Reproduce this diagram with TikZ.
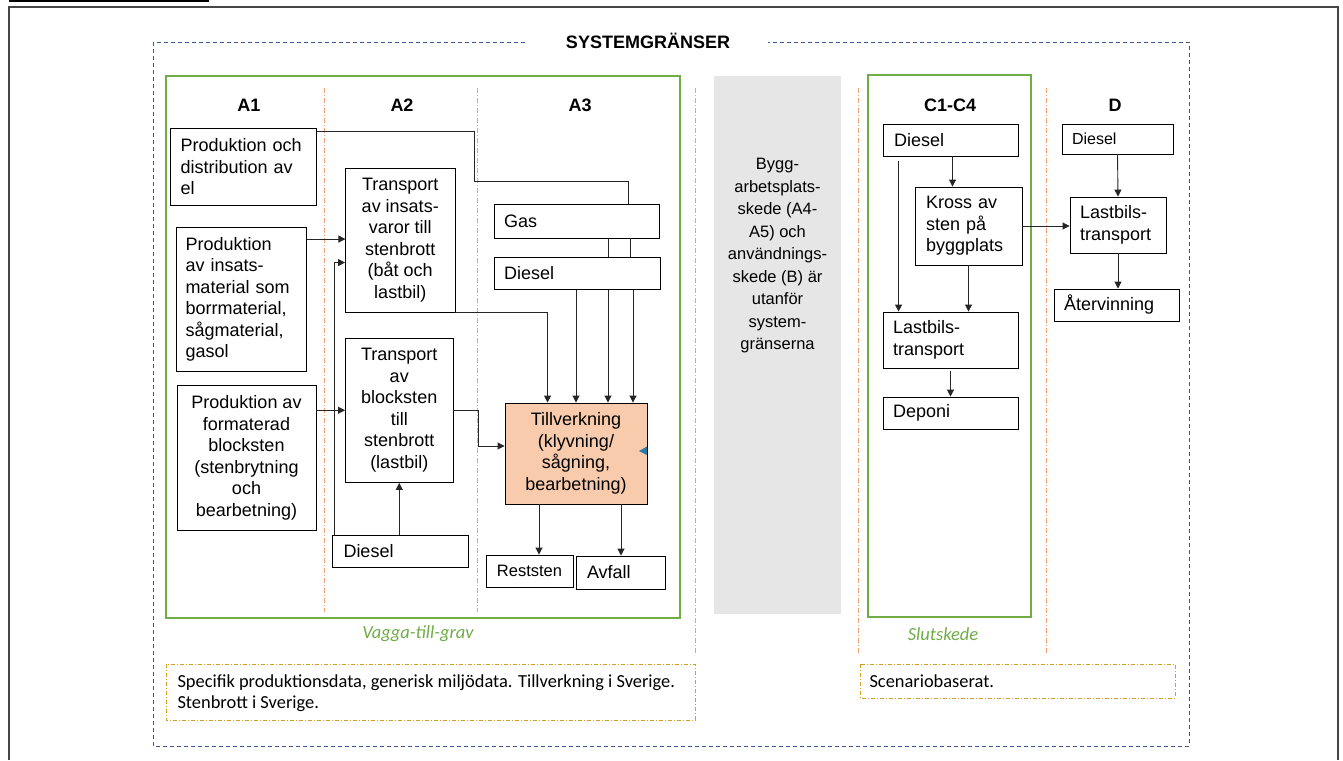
\documentclass[tikz,border=0pt]{standalone}
\usepackage{fontspec}
\setmainfont{Liberation Sans}
\newfontfamily\notefont{Carlito}
\usetikzlibrary{arrows.meta}

\definecolor{lcagreen}{RGB}{112,173,71}
\definecolor{stageorange}{RGB}{244,160,110}
\definecolor{boundblue}{RGB}{58,88,150}
\definecolor{notegold}{RGB}{210,160,30}
\definecolor{outgrey}{RGB}{230,230,230}
\definecolor{fillpeach}{RGB}{248,203,173}
\definecolor{framegrey}{RGB}{70,70,70}

\begin{document}
\begin{tikzpicture}[x=1pt,y=-1pt]
% Define styles
\tikzset{
    box/.style={draw=black, line width=0.9pt, inner sep=0pt, align=center, font=\fontsize{18}{21.5}\selectfont},
    lbox/.style={box, align=left},
    phase/.style={font=\fontsize{18}{22}\selectfont\bfseries},
    divider/.style={stageorange, line width=1pt, dash pattern=on 5pt off 2pt on 1pt off 2pt},
    flow/.style={draw=black!85, line width=0.9pt, -{Triangle[length=7pt,width=7pt]}},
    link/.style={draw=black!85, line width=0.9pt},
    caption/.style={text=lcagreen, font=\notefont\itshape\fontsize{18.5}{20}\selectfont},
    note/.style={draw=notegold, line width=0.9pt, dash pattern=on 4pt off 2pt on 1pt off 2pt},
    notetext/.style={font=\notefont\fontsize{18.4}{21}\selectfont, align=left, anchor=west}
}

% Page and frame
\useasboundingbox (0,0) rectangle (1343,760);
\fill[white] (0,0) rectangle (1343,760);
\draw[framegrey, line width=2pt] (9,760) -- (9,7) -- (1338,7) -- (1338,760);
\draw[black, line width=2.5pt] (9,1) -- (209,1);

% System boundary
\draw[boundblue, line width=0.9pt, dash pattern=on 4pt off 3pt] (153,42) rectangle (1189,746);
\node[phase, fill=white, minimum width=240pt, minimum height=12pt] (title) at (648,41) {SYSTEMGRÄNSER};

% Stage frames
\draw[lcagreen, line width=2.2pt] (166,76) rectangle (680,618);
\draw[lcagreen, line width=2.2pt] (868,75) rectangle (1031,617);
\fill[outgrey] (714,76) rectangle (841,614);

% Stage dividers
\foreach \x in {324,477} {
    \draw[divider] (\x,88) -- (\x,612);
}
\foreach \x in {695,858,1046} {
    \draw[divider] (\x,88) -- (\x,655);
}

% Stage labels
\foreach \x/\name in {249/A1, 402/A2, 580/A3, 950/C1-C4, 1115/D} {
    \node[phase] (lbl\name) at (\x,105) {\name};
}

% A1
\node[lbox, minimum width=146pt, minimum height=77pt, text width=126pt] (el) at (243.5,167) {Produktion och\\distribution av\\el};
\node[lbox, minimum width=130pt, minimum height=144pt, text width=112pt] (insats) at (241.5,299.5) {Produktion\\av insats-\\material som\\borrmaterial,\\sågmaterial,\\gasol};
\node[box, minimum width=139pt, minimum height=144.5pt] (format) at (246.5,457.75) {Produktion av\\formaterad\\blocksten\\(stenbrytning\\och\\bearbetning)};

% A2
\node[box, minimum width=109.5pt, minimum height=144pt] (tinsats) at (400.25,240) {Transport\\av insats-\\varor till\\stenbrott\\(båt och\\lastbil)};
\node[box, minimum width=107.5pt, minimum height=144.5pt] (tblock) at (399.25,410.25) {Transport\\av\\blocksten\\till\\stenbrott\\(lastbil)};
\node[lbox, minimum width=135.5pt, minimum height=32pt, text width=113.5pt] (dieselA) at (400.25,551) {Diesel};

% A3
\node[lbox, minimum width=165pt, minimum height=33.5pt, text width=145pt] (gas) at (576.5,221.25) {Gas};
\node[lbox, minimum width=166pt, minimum height=32.5pt, text width=146pt] (dieselB) at (577,273.25) {Diesel};
\node[box, fill=fillpeach, minimum width=142pt, minimum height=101pt] (till) at (576,453.5) {Tillverkning\\(klyvning/\\sågning,\\bearbetning)};
\fill[boundblue!80!cyan] (639,451) -- (647,446.5) -- (647,455) -- cycle;
\node[box, minimum width=87pt, minimum height=32pt, font=\fontsize{16.5}{20}\selectfont] (rest) at (529.5,571) {Reststen};
\node[lbox, minimum width=89pt, minimum height=33pt, text width=67pt] (avfall) at (620.5,572.5) {Avfall};

% Outside the boundary
\node[font=\fontsize{16.5}{22.5}\selectfont, align=center] (outside) at (777.5,256) {Bygg-\\arbetsplats-\\skede (A4-\\A5) och\\användnings-\\skede (B) är\\utanför\\system-\\gränserna};

% C1-C4
\node[lbox, minimum width=135pt, minimum height=32pt, text width=113pt] (dieselC) at (950.5,140) {Diesel};
\node[lbox, minimum width=107pt, minimum height=78pt, text width=85pt] (kross) at (968.5,226) {Kross av\\sten på\\byggplats};
\node[lbox, minimum width=135pt, minimum height=56pt, text width=115pt] (lastC) at (950.5,340) {Lastbils-\\transport};
\node[lbox, minimum width=135pt, minimum height=32pt, text width=115pt] (deponi) at (950.5,413) {Deponi};

% D
\node[lbox, minimum width=111pt, minimum height=30pt, text width=91pt, font=\fontsize{16}{20}\selectfont] (dieselD) at (1117.5,139) {Diesel};
\node[lbox, minimum width=96pt, minimum height=56pt, text width=76pt] (lastD) at (1118,225) {Lastbils-\\transport};
\node[lbox, minimum width=125pt, minimum height=32pt, text width=105pt] (atervin) at (1116.5,305) {Återvinning};

% Connectors A
\draw[link] ([yshift=-3pt]el.north east) -| (474,181) -| ([xshift=51.5pt]gas.north);
\foreach \dx in {31.5,53.5} {
    \draw[link] ([xshift=\dx pt]gas.south) -- ([xshift=\dx pt]gas.south |- dieselB.north);
}
\foreach \dx in {-1,31,56} {
    \draw[flow] ([xshift=\dx pt]dieselB.south) -- ([xshift=\dx pt]dieselB.south |- till.north);
}
\draw[flow] (tinsats.south east) -| ([xshift=43pt]till.north west);
\draw[flow] ([yshift=-12pt]insats.north east) -- ++(38.5,0);
\draw[flow] ([xshift=2pt]dieselA.north west) |- ([yshift=-95pt]tinsats.north west);
\draw[flow] (dieselA.north -| tblock.south) -- (tblock.south);
\draw[flow] (format.east |- tblock.west) -- (tblock.west);
\draw[flow] (tblock.east) -- ++(25,0) |- ([yshift=7.5pt]till.west);
\draw[flow] ([xshift=-37pt]till.south) -- ([xshift=-37pt]till.south |- rest.north);
\draw[flow] ([xshift=45pt]till.south) -- ([xshift=45pt]till.south |- avfall.north);

% Connectors C and D
\draw[flow] ([xshift=2pt]dieselC.south) -- ([xshift=2pt]dieselC.south |- kross.north);
\draw[flow] ([xshift=16pt,yshift=-5pt]dieselC.south west) -- ([xshift=16pt]lastC.north west);
\draw[flow] (kross.south) -- (kross.south |- lastC.north);
\draw[flow] ([yshift=-3pt]lastC.south) -- (deponi.north);
\draw[flow] (kross.east) -- (kross.east -| lastD.west);
\draw[flow] (dieselD.south) -- (lastD.north);
\draw[flow] (lastD.south) -- (lastD.south |- atervin.north);

% Captions and notes
\node[caption] (cradle) at (418,634) {Vagga-till-grav};
\node[caption] (endstage) at (943,634) {Slutskede};
\draw[note] (166,664) rectangle (695,720);
\node[notetext] (noteA) at (174,693) {Specifik produktionsdata, generisk miljödata. Tillverkning i Sverige.\\Stenbrott i Sverige.};
\draw[note] (860,664) rectangle (1175,698);
\node[notetext] (noteC) at (866,681) {Scenariobaserat.};

\end{tikzpicture}
\end{document}
